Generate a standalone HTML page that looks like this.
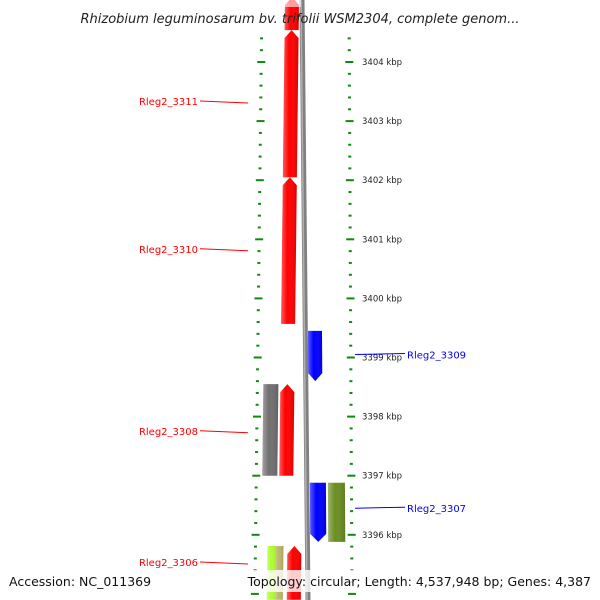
<!DOCTYPE html>
<html><head><meta charset="utf-8"><style>
body{margin:0;background:#fff}
svg{display:block;font-family:"DejaVu Sans","Liberation Sans",sans-serif}
</style></head><body>
<svg id="c" width="600" height="600" viewBox="0 0 600 600">
<defs>
<linearGradient id="gs" x1="0" x2="1" y1="0" y2="0"><stop offset="0" stop-color="#fff" stop-opacity="0.35"/><stop offset="0.4" stop-color="#fff" stop-opacity="0"/><stop offset="1" stop-color="#000" stop-opacity="0.15"/></linearGradient>
</defs>
<g id="ticks"></g>
<g id="backbone"></g>
<g id="feats"></g>
<g id="labels"></g>
<text x="300" y="23" text-anchor="middle" font-size="13" font-style="italic" fill="#222">Rhizobium leguminosarum bv. trifolii WSM2304, complete genom...</text>
<rect x="0" y="570" width="600" height="22" fill="#fff" fill-opacity="0.8"/>
<text x="9" y="586" font-size="12.5" fill="#111">Accession: NC_011369</text>
<text x="591" y="586" text-anchor="end" font-size="12.5" fill="#111">Topology: circular; Length: 4,537,948 bp; Genes: 4,387</text>
</svg>
<script>
const tickLabels=[3404,3403,3402,3401,3400,3399,3398,3397,3396];
const featNames=["top-red","Rleg2_3311","Rleg2_3310","Rleg2_3309","grey","Rleg2_3308","Rleg2_3307","olive","lightgreen","tan","Rleg2_3306"];
const featStart=[3405.1,3404.54,3402.05,3399.45,3398.55,3398.55,3396.88,3396.88,3395.81,3395.81,3395.81];
const featEnd=[3404.54,3402.05,3399.57,3398.60,3397.0,3397.0,3395.88,3395.88,3394.9,3394.9,3394.9];
const featLane=[1,1,1,3,0,1,8,4,5,6,7];
const featStrand=[1,1,1,-1,0,1,-1,0,0,0,1];
const featColor=["#ff0000","#ff0000","#ff0000","#0000ff","#707070","#ff0000","#0000ff","#6b8e23","#adff2f","#bdb76b","#ff0000"];
const labelKbp=[3403.34,3400.84,3399.05,3397.76,3396.45,3395.54];
const labelText=["Rleg2_3311","Rleg2_3310","Rleg2_3309","Rleg2_3308","Rleg2_3307","Rleg2_3306"];
const labelSide=[-1,-1,1,-1,1,-1];
const NS="http://www.w3.org/2000/svg";
const Y=k=>62+(3404-k)*59.1;
const lanes=[[268,283,-0.012],[285,299,-0.012],[0,0,0],[306,320,0.006],[325,342,0.006],[274,284,-0.012],[282,290,-0.012],[294,308,-0.012],[307,323,0.006]];
function mk(tag,attrs,parent){const e=document.createElementNS(NS,tag);for(const k in attrs)e.setAttribute(k,attrs[k]);parent.appendChild(e);return e;}
const gT=document.getElementById('ticks');
for(let i=-6;i<=56;i++){
  const k=3405-i*0.2, y=Y(k); if(y<28||y>600)continue;
  const major=Math.abs(k-Math.round(k))<0.01;
  const lx=262-y*0.012, rx=349+y*0.005;
  const w=major?8:3;
  let t=mk('rect',{x:lx-w/2,y:y-1,width:w,height:2,fill:'#118811'},gT);
  
  
  t=mk('rect',{x:rx-w/2,y:y-1,width:w,height:2,fill:'#118811'},gT);
  
  
}
tickLabels.forEach(k=>{const y=Y(k);
  const t=mk('text',{x:362,y:y+3,'font-size':8.5,fill:'#222'},gT);t.textContent=k+' kbp';
  
  });
const gB=document.getElementById('backbone');
const bb=mk('path',{d:'M302,0 Q304,300 308,600',stroke:'#808080','stroke-width':5,fill:'none'},gB);


mk('path',{d:'M301,0 Q303,300 307,600',stroke:'#b0b0b0','stroke-width':1.5,fill:'none'},gB);
const gF=document.getElementById('feats');
featNames.forEach((n,i)=>{
  const L=lanes[featLane[i]];const y1=Y(featStart[i]),y2=Math.min(Y(featEnd[i]),605);
  const xa=y=>L[0]+y*L[2], xb=y=>L[1]+y*L[2];const a=8;let d;
  if(featStrand[i]===1){const m=(xa(y1)+xb(y1))/2;d=`M${xa(y1+a)},${y1+a} L${m},${y1} L${xb(y1+a)},${y1+a} L${xb(y2)},${y2} L${xa(y2)},${y2}Z`;}
  else if(featStrand[i]===-1){const m=(xa(y2)+xb(y2))/2;d=`M${xa(y1)},${y1} L${xb(y1)},${y1} L${xb(y2-a)},${y2-a} L${m},${y2} L${xa(y2-a)},${y2-a}Z`;}
  else d=`M${xa(y1)},${y1} L${xb(y1)},${y1} L${xb(y2)},${y2} L${xa(y2)},${y2}Z`;
  const p=mk('path',{d:d,fill:featColor[i]},gF);
  
  
  mk('path',{d:d,fill:'url(#gs)'},gF);
});
mk('rect',{x:284,y:0,width:17,height:7,fill:'#fff','fill-opacity':0.6},gF);
const gL=document.getElementById('labels');
labelText.forEach((s,i)=>{const y=Y(labelKbp[i]);const left=labelSide[i]<0;const c=left?'#ff0000':'#0000ff';
  const l=left?mk('line',{x1:200,y1:y,x2:248,y2:y+2,stroke:c},gL):mk('line',{x1:355,y1:y,x2:405,y2:y-1,stroke:c},gL);
  
  
  const t=mk('text',{x:left?198:407,y:y+4,'font-size':10,fill:c,'text-anchor':left?'end':'start'},gL);t.textContent=s;
  
  });
</script>
</body></html>
